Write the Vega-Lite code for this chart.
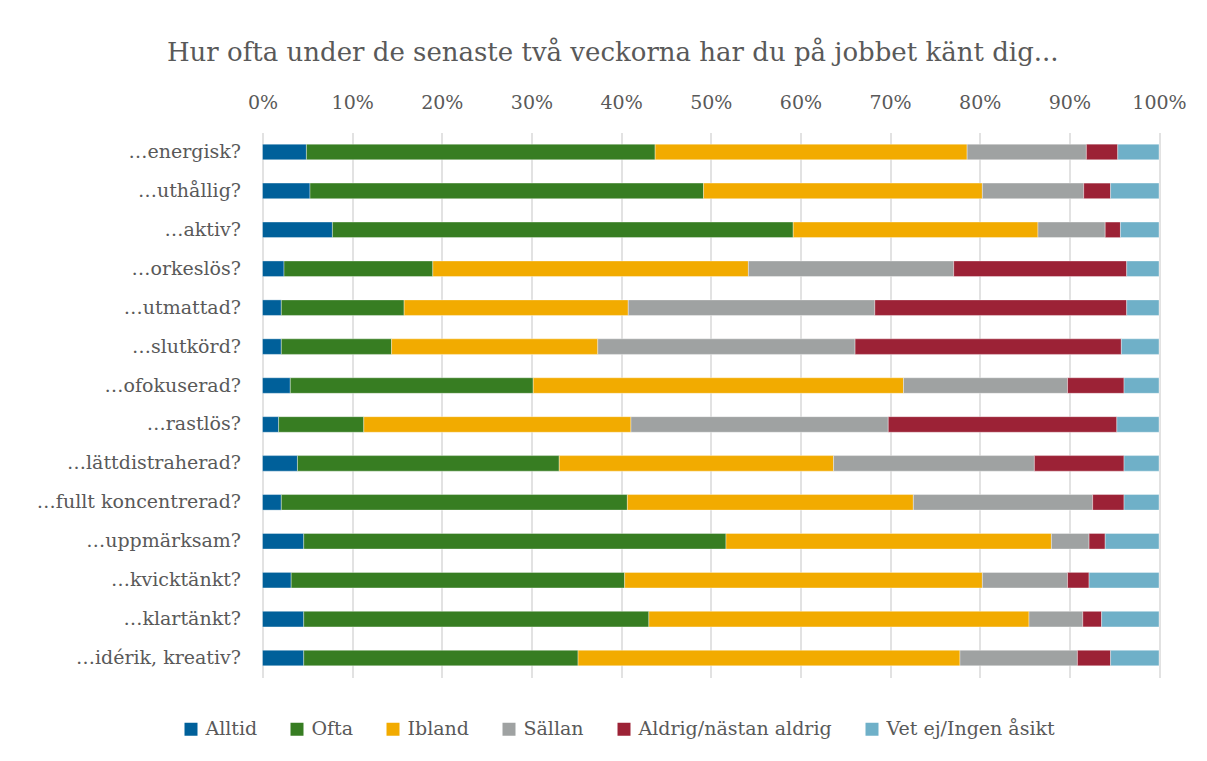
{
  "$schema": "https://vega.github.io/schema/vega-lite/v6.json",
  "autosize": {"type": "none"},
  "width": 896.5,
  "height": 545,
  "padding": {"left": 262.5, "top": 132.5, "right": 48, "bottom": 83.5},
  "background": "white",
  "title": {
    "text": "Hur ofta under de senaste två veckorna har du på jobbet känt dig...",
    "font": "DejaVu Serif",
    "fontSize": 26,
    "fontWeight": "normal",
    "color": "#595959",
    "anchor": "middle",
    "dx": -98,
    "offset": 28
  },
  "data": {
    "values": [
      {"q": "…energisk?", "Alltid": 4.9, "Ofta": 38.9, "Ibland": 34.8, "Sällan": 13.3, "Aldrig/nästan aldrig": 3.5, "Vet ej/Ingen åsikt": 4.6},
      {"q": "…uthållig?", "Alltid": 5.3, "Ofta": 43.9, "Ibland": 31.1, "Sällan": 11.3, "Aldrig/nästan aldrig": 3.0, "Vet ej/Ingen åsikt": 5.4},
      {"q": "…aktiv?", "Alltid": 7.8, "Ofta": 51.4, "Ibland": 27.3, "Sällan": 7.5, "Aldrig/nästan aldrig": 1.7, "Vet ej/Ingen åsikt": 4.3},
      {"q": "…orkeslös?", "Alltid": 2.4, "Ofta": 16.6, "Ibland": 35.2, "Sällan": 22.9, "Aldrig/nästan aldrig": 19.3, "Vet ej/Ingen åsikt": 3.6},
      {"q": "…utmattad?", "Alltid": 2.1, "Ofta": 13.7, "Ibland": 25.0, "Sällan": 27.5, "Aldrig/nästan aldrig": 28.1, "Vet ej/Ingen åsikt": 3.6},
      {"q": "…slutkörd?", "Alltid": 2.1, "Ofta": 12.3, "Ibland": 23.0, "Sällan": 28.7, "Aldrig/nästan aldrig": 29.7, "Vet ej/Ingen åsikt": 4.2},
      {"q": "…ofokuserad?", "Alltid": 3.1, "Ofta": 27.1, "Ibland": 41.3, "Sällan": 18.3, "Aldrig/nästan aldrig": 6.3, "Vet ej/Ingen åsikt": 3.9},
      {"q": "…rastlös?", "Alltid": 1.8, "Ofta": 9.5, "Ibland": 29.8, "Sällan": 28.7, "Aldrig/nästan aldrig": 25.5, "Vet ej/Ingen åsikt": 4.7},
      {"q": "…lättdistraherad?", "Alltid": 3.9, "Ofta": 29.2, "Ibland": 30.6, "Sällan": 22.4, "Aldrig/nästan aldrig": 10.0, "Vet ej/Ingen åsikt": 3.9},
      {"q": "…fullt koncentrerad?", "Alltid": 2.1, "Ofta": 38.6, "Ibland": 31.9, "Sällan": 20.0, "Aldrig/nästan aldrig": 3.5, "Vet ej/Ingen åsikt": 3.9},
      {"q": "…uppmärksam?", "Alltid": 4.6, "Ofta": 47.1, "Ibland": 36.3, "Sällan": 4.2, "Aldrig/nästan aldrig": 1.8, "Vet ej/Ingen åsikt": 6.0},
      {"q": "…kvicktänkt?", "Alltid": 3.2, "Ofta": 37.2, "Ibland": 39.9, "Sällan": 9.5, "Aldrig/nästan aldrig": 2.4, "Vet ej/Ingen åsikt": 7.8},
      {"q": "…klartänkt?", "Alltid": 4.6, "Ofta": 38.5, "Ibland": 42.4, "Sällan": 6.0, "Aldrig/nästan aldrig": 2.1, "Vet ej/Ingen åsikt": 6.4},
      {"q": "…idérik, kreativ?", "Alltid": 4.6, "Ofta": 30.6, "Ibland": 42.6, "Sällan": 13.1, "Aldrig/nästan aldrig": 3.7, "Vet ej/Ingen åsikt": 5.4}
    ]
  },
  "transform": [
    {"fold": ["Alltid", "Ofta", "Ibland", "Sällan", "Aldrig/nästan aldrig", "Vet ej/Ingen åsikt"], "as": ["svar", "andel"]},
    {"window": [{"op": "row_number", "as": "rank"}], "groupby": ["q"]}
  ],
  "mark": {"type": "bar", "stroke": "white", "strokeWidth": 0.6, "strokeOpacity": 0.6},
  "encoding": {
    "y": {
      "field": "q",
      "type": "nominal",
      "sort": ["…energisk?", "…uthållig?", "…aktiv?", "…orkeslös?", "…utmattad?", "…slutkörd?", "…ofokuserad?", "…rastlös?", "…lättdistraherad?", "…fullt koncentrerad?", "…uppmärksam?", "…kvicktänkt?", "…klartänkt?", "…idérik, kreativ?"],
      "scale": {"paddingInner": 0.6, "paddingOuter": 0.3},
      "axis": {"title": null, "ticks": false, "domain": false, "labelFont": "DejaVu Serif", "labelFontSize": 19, "labelColor": "#595959", "labelPadding": 22, "labelLimit": 400}
    },
    "x": {
      "field": "andel",
      "type": "quantitative",
      "stack": "normalize",
      "scale": {"domain": [0, 1], "nice": false},
      "axis": {"orient": "top", "title": null, "format": ".0%", "values": [0, 0.1, 0.2, 0.3, 0.4, 0.5, 0.6, 0.7, 0.8, 0.9, 1], "ticks": false, "domain": false, "grid": true, "gridColor": "#d9d9d9", "gridWidth": 1.5, "labelFlush": false, "labelFont": "DejaVu Serif", "labelFontSize": 19, "labelColor": "#595959", "labelPadding": 20}
    },
    "order": {"field": "rank", "type": "quantitative", "sort": "ascending"},
    "color": {
      "field": "svar",
      "type": "nominal",
      "sort": ["Alltid", "Ofta", "Ibland", "Sällan", "Aldrig/nästan aldrig", "Vet ej/Ingen åsikt"],
      "scale": {
        "domain": ["Alltid", "Ofta", "Ibland", "Sällan", "Aldrig/nästan aldrig", "Vet ej/Ingen åsikt"],
        "range": ["#00609a", "#377d22", "#f2ab00", "#9fa2a2", "#9c2236", "#6fb0c8"]
      },
      "legend": {
        "title": null,
        "orient": "none",
        "direction": "horizontal",
        "legendX": -81,
        "legendY": 587,
        "symbolType": "square",
        "symbolSize": 169,
        "symbolStrokeWidth": 0,
        "labelFont": "DejaVu Serif",
        "labelFontSize": 19,
        "labelColor": "#595959",
        "labelOffset": 5,
        "labelLimit": 400,
        "columnPadding": 30
      }
    }
  },
  "config": {"view": {"stroke": null}}
}
